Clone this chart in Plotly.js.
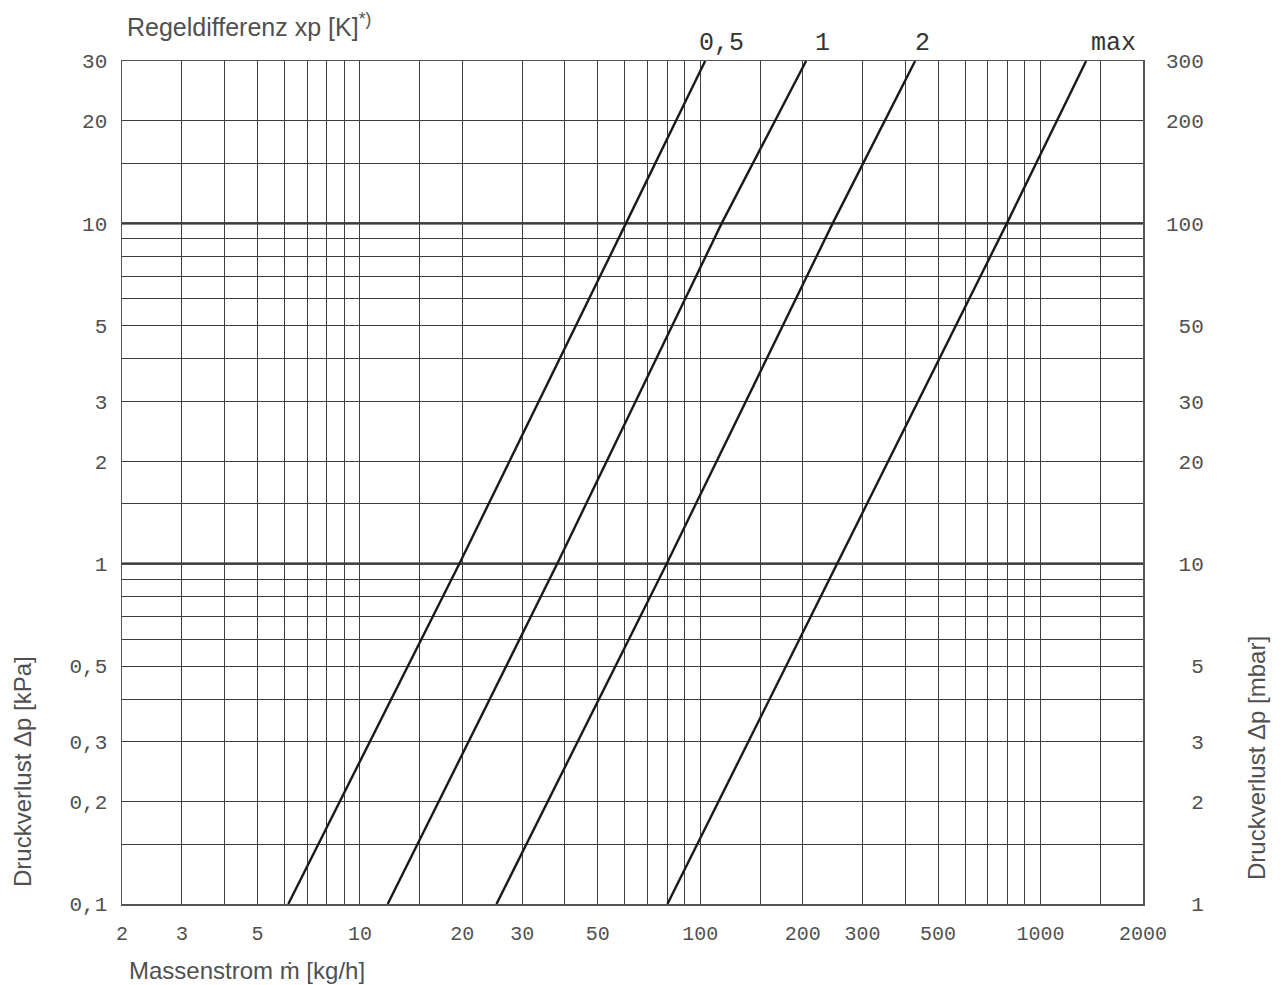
<!DOCTYPE html>
<html>
<head>
<meta charset="utf-8">
<script src="https://cdn.plot.ly/plotly-3.0.1.min.js"></script>
<style>html,body{margin:0;padding:0;background:#fff}#chart{width:1284px;height:985px}</style>
</head>
<body>
<div id="chart"></div>
<script>
// Pressure loss values (kPa) at which the mass flow was read
const dpKPa = [0.1, 1, 10, 30];
// Mass flow (kg/h) for each control deviation curve
const m_05 = [6.16, 19.6, 60.5, 103.4];
const m_1 = [12.07, 38.0, 115.6, 204.7];
const m_2 = [25.2, 79.7, 245, 428];
const m_max = [80.1, 253, 796, 1361];
const curveNames = ['0,5', '1', '2', 'max'];

// Grid / tick values
const xGrid = [2,3,4,5,6,7,8,9,10,15,20,30,40,50,60,70,80,90,100,150,200,300,400,500,600,700,800,900,1000,1500,2000];
const xLabeled = [2,3,5,10,20,30,50,100,200,300,500,1000,2000];
const yGrid = [0.1,0.15,0.2,0.3,0.4,0.5,0.6,0.7,0.8,0.9,1,1.5,2,3,4,5,6,7,8,9,10,15,20,30];
const yLabeledVals = [0.1,0.2,0.3,0.5,1,2,3,5,10,20,30];
const yLabeledText = ['0,1','0,2','0,3','0,5','1','2','3','5','10','20','30'];
const y2Vals = [1,2,3,5,10,20,30,50,100,200,300];
const y2Text = ['1','2','3','5','10','20','30','50','100','200','300'];

const mono = 'Liberation Mono, Courier New, monospace';
const sans = 'Liberation Sans, Arial, sans-serif';
const txtCol = '#505050';

const lineStyle = {color: '#1a1a1a', width: 2.4};
const series = [m_05, m_1, m_2, m_max];
const traces = series.map((m, i) => ({
  x: m, y: dpKPa, type: 'scatter', mode: 'lines', name: curveNames[i],
  line: lineStyle, hoverinfo: 'skip', showlegend: false
}));
traces.push({x: [], y: [], yaxis: 'y2', type: 'scatter', mode: 'lines', showlegend: false, hoverinfo: 'skip'});

const xText = xGrid.map(v => xLabeled.includes(v) ? String(v) : '');
const yText = yGrid.map(v => { const k = yLabeledVals.indexOf(v); return k >= 0 ? yLabeledText[k] : ''; });
const pad = s => '\u00a0'.repeat(Math.max(0, 3 - s.length)) + s;

const layout = {
  width: 1284, height: 985,
  margin: {l: 122, r: 141, t: 61, b: 81},
  paper_bgcolor: '#fff', plot_bgcolor: '#fff',
  showlegend: false,
  xaxis: {
    type: 'log', range: [Math.log10(2), Math.log10(2000)],
    tickmode: 'array', tickvals: xGrid, ticktext: xText,
    showgrid: true, gridcolor: '#3c3c3c', gridwidth: 1,
    showline: true, mirror: true, linecolor: '#555', linewidth: 1.5,
    ticks: '', ticklabelstandoff: 10,
    tickfont: {family: mono, size: 20, color: txtCol},
    zeroline: false
  },
  yaxis: {
    type: 'log', range: [-1, Math.log10(30)],
    tickmode: 'array', tickvals: yGrid, ticktext: yText,
    showgrid: true, gridcolor: '#3c3c3c', gridwidth: 1,
    showline: true, mirror: true, linecolor: '#555', linewidth: 1.5,
    ticks: '', ticklabelstandoff: 9,
    tickfont: {family: mono, size: 21, color: txtCol},
    zeroline: false
  },
  yaxis2: {
    type: 'log', range: [0, Math.log10(300)], overlaying: 'y', side: 'right',
    tickmode: 'array', tickvals: y2Vals, ticktext: y2Text.map(pad),
    showgrid: false, showline: false, ticks: '', ticklabelstandoff: 22,
    tickfont: {family: mono, size: 21, color: txtCol},
    zeroline: false
  },
  shapes: [1, 10].map(v => ({
    type: 'line', xref: 'paper', x0: 0, x1: 1, yref: 'y', y0: v, y1: v,
    line: {color: '#111', width: 2.2}, layer: 'below'
  })),
  annotations: [
    {text: 'Regeldifferenz xp [K]<sup>*)</sup>', xref: 'paper', yref: 'paper',
     x: (125 - 122) / 1021, y: (904 - 25) / 843, xanchor: 'left', yanchor: 'middle',
     showarrow: false, font: {family: sans, size: 25, color: txtCol}},
    {text: 'Massenstrom \u1E41 [kg/h]', xref: 'paper', yref: 'paper',
     x: (127 - 122) / 1021, y: (904 - 970) / 843, xanchor: 'left', yanchor: 'middle',
     showarrow: false, font: {family: sans, size: 24, color: txtCol}},
    {text: 'Druckverlust \u0394p [kPa]', xref: 'paper', yref: 'paper', textangle: -90,
     x: (22 - 122) / 1021, y: (904 - 772) / 843, xanchor: 'center', yanchor: 'middle',
     showarrow: false, font: {family: sans, size: 24, color: txtCol}},
    {text: 'Druckverlust \u0394p [mbar]', xref: 'paper', yref: 'paper', textangle: -90,
     x: (1256 - 122) / 1021, y: (904 - 758) / 843, xanchor: 'center', yanchor: 'middle',
     showarrow: false, font: {family: sans, size: 24, color: txtCol}},
  ].concat(curveNames.map((n, i) => ({
    text: n, xref: 'paper', yref: 'paper',
    x: ([721, 822, 922, 1113][i] - 122) / 1021, y: (904 - 43) / 843,
    xanchor: 'center', yanchor: 'middle', showarrow: false,
    font: {family: mono, size: 25, color: '#333'}
  })))
};

Plotly.newPlot('chart', traces, layout, {displayModeBar: false, staticPlot: true});
</script>
</body>
</html>
